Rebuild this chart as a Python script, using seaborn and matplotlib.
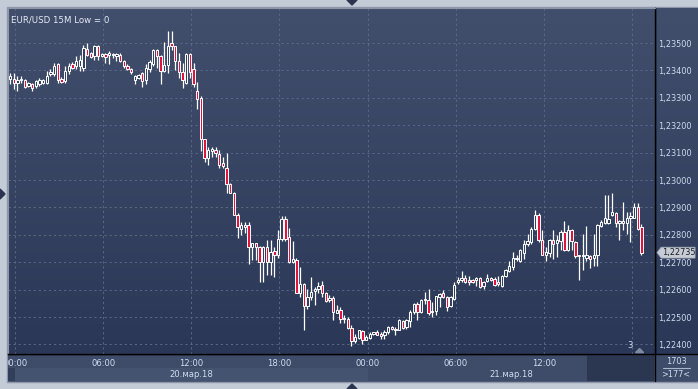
import numpy as np
import pandas as pd
import matplotlib
matplotlib.use("Agg")
import matplotlib.pyplot as plt
import matplotlib.transforms as mtransforms
from matplotlib.patches import Rectangle, Polygon
from matplotlib.colors import LinearSegmentedColormap
import seaborn as sns

# ---------------- data (prices in pips above 1.22000) ----------------
symbol_title = "EUR/USD 15M Low = 0"

open_pips = [
    136.8, 137.0, 135.5, 136.5, 136.7, 134.3, 135.2, 134.3, 134.9, 135.3,
    135.5, 138.8, 138.6, 142.2, 137.0, 136.1, 139.8, 142.2, 141.6, 141.6,
    141.0, 148.0, 146.4, 145.2, 148.8, 145.4, 146.1, 145.6, 145.5, 145.4,
    145.8, 143.4, 141.8, 140.6, 136.6, 137.4, 139.0, 136.6, 140.6, 142.3,
    147.6, 145.1, 139.9, 142.1, 150.0, 148.8, 143.5, 139.4, 135.4, 146.0,
    140.6, 132.6, 129.9, 115.0, 108.2, 110.6, 111.0, 109.4, 106.3, 104.3,
    98.4, 95.1, 87.2, 82.0, 83.0, 83.5, 75.7, 76.9, 75.7, 70.2,
    75.7, 70.2, 74.1, 72.7, 78.4, 85.7, 79.1, 70.0, 70.8, 58.6,
    61.9, 54.0, 57.4, 59.6, 60.1, 61.7, 58.6, 56.2, 57.1, 51.6,
    52.5, 49.2, 49.4, 46.1, 41.2, 42.5, 44.9, 41.7, 42.4, 43.9,
    44.5, 43.9, 43.3, 44.7, 46.3, 45.1, 45.3, 48.7, 46.3, 48.7,
    51.8, 54.8, 52.0, 56.2, 56.3, 51.7, 52.1, 57.2, 58.7, 57.2,
    54.2, 56.6, 62.7, 63.5, 64.3, 63.5, 63.5, 63.5, 64.3, 61.5,
    63.3, 64.3, 63.9, 62.7, 61.4, 65.1, 66.9, 68.2, 71.0, 70.6,
    73.3, 76.7, 77.4, 82.3, 87.2, 78.0, 72.8, 73.3, 78.0, 77.0,
    77.7, 81.0, 74.5, 81.9, 77.4, 72.2, 72.2, 71.6, 72.1, 71.6,
    72.5, 83.1, 84.4, 84.4, 87.2, 87.8, 84.4, 84.4, 84.4, 86.0,
    86.3, 90.0, 82.9,
]
high_pips = [
    139.2, 139.2, 138.0, 138.0, 137.0, 135.8, 135.5, 136.7, 137.2, 137.0,
    139.8, 140.4, 142.8, 142.8, 137.5, 141.6, 142.8, 143.0, 145.2, 145.8,
    149.4, 150.2, 146.8, 149.4, 149.4, 146.4, 146.4, 147.0, 146.4, 146.4,
    146.4, 144.0, 142.2, 141.0, 138.4, 138.8, 139.6, 142.3, 143.9, 147.9,
    147.9, 145.5, 150.4, 154.5, 154.3, 149.1, 146.3, 142.7, 146.3, 146.3,
    142.7, 135.7, 130.5, 115.0, 111.9, 111.9, 112.2, 111.0, 108.5, 109.8,
    98.8, 95.7, 87.8, 84.8, 84.8, 84.8, 77.2, 77.2, 76.0, 76.0,
    78.2, 78.2, 75.7, 81.8, 86.7, 86.7, 82.4, 77.6, 71.4, 68.4,
    62.3, 60.4, 64.5, 60.8, 62.9, 63.1, 59.2, 58.0, 57.6, 54.3,
    53.7, 50.6, 50.0, 47.0, 43.9, 45.4, 45.2, 43.3, 44.5, 44.7,
    45.1, 44.5, 45.3, 46.6, 46.6, 46.3, 49.3, 49.0, 49.3, 52.4,
    55.0, 55.4, 56.6, 59.1, 60.3, 55.4, 57.8, 58.7, 59.7, 57.8,
    57.5, 62.7, 64.5, 66.9, 65.5, 65.1, 64.0, 64.5, 64.5, 63.1,
    65.7, 64.7, 64.5, 65.1, 65.3, 67.5, 70.6, 73.7, 72.5, 74.9,
    78.0, 80.4, 82.9, 89.0, 88.0, 81.7, 75.5, 78.6, 81.7, 79.8,
    81.7, 85.1, 83.5, 82.3, 77.7, 72.8, 80.4, 83.1, 72.8, 80.4,
    84.1, 85.3, 94.5, 94.5, 95.2, 88.4, 85.3, 92.1, 88.4, 88.4,
    91.5, 91.5, 84.1,
]
low_pips = [
    134.9, 133.1, 132.5, 135.5, 133.7, 134.0, 132.5, 133.7, 134.5, 135.0,
    134.9, 138.0, 138.0, 135.5, 135.3, 135.5, 138.6, 140.5, 140.4, 139.8,
    139.8, 145.2, 144.5, 144.0, 144.0, 144.9, 142.8, 142.5, 144.5, 143.4,
    143.0, 141.0, 140.0, 138.6, 135.0, 136.8, 134.1, 135.0, 139.6, 141.5,
    140.9, 135.0, 139.6, 139.0, 147.6, 140.2, 137.2, 133.5, 135.0, 137.2,
    133.8, 126.0, 110.6, 106.7, 105.5, 108.5, 108.5, 104.5, 104.3, 95.1,
    95.1, 87.2, 78.9, 80.1, 80.5, 69.5, 70.8, 70.8, 62.9, 62.9,
    65.3, 65.3, 64.5, 71.4, 77.6, 77.6, 69.6, 69.6, 58.6, 57.4,
    45.2, 53.1, 56.2, 54.3, 58.6, 57.4, 55.5, 55.5, 48.8, 51.3,
    47.8, 47.8, 45.8, 39.3, 40.5, 42.1, 40.0, 41.5, 41.8, 43.3,
    43.3, 42.1, 42.1, 43.9, 45.1, 43.3, 45.1, 45.7, 45.7, 46.3,
    51.2, 49.0, 51.4, 54.8, 50.6, 50.0, 50.6, 53.8, 57.0, 52.1,
    53.8, 56.3, 62.1, 62.7, 62.3, 61.8, 62.3, 61.5, 60.6, 60.3,
    62.7, 63.0, 61.5, 61.5, 61.0, 64.5, 66.3, 67.2, 70.6, 70.0,
    71.2, 76.1, 76.7, 81.9, 77.4, 72.5, 70.6, 71.8, 71.2, 71.8,
    74.3, 74.0, 74.0, 74.5, 71.6, 63.5, 67.2, 70.6, 67.9, 68.8,
    68.8, 82.9, 83.9, 84.1, 86.8, 82.9, 78.0, 81.7, 80.4, 77.4,
    86.0, 81.7, 72.8,
]
close_pips = [
    138.0, 135.5, 136.7, 136.8, 134.1, 135.5, 133.7, 136.1, 136.7, 136.7,
    138.0, 139.3, 141.8, 136.7, 135.8, 139.8, 141.8, 141.0, 143.4, 144.0,
    148.2, 145.8, 144.9, 148.8, 145.4, 146.0, 144.9, 146.2, 146.0, 146.0,
    143.4, 141.8, 140.6, 139.4, 137.8, 138.2, 136.0, 140.9, 143.0, 147.6,
    145.1, 139.9, 142.1, 149.1, 148.8, 143.5, 139.4, 136.6, 146.0, 139.6,
    135.0, 129.6, 115.0, 108.2, 111.0, 111.2, 109.8, 105.5, 105.1, 98.4,
    95.4, 87.4, 82.9, 83.5, 83.6, 75.4, 76.9, 75.7, 70.2, 75.7,
    70.2, 73.9, 72.7, 78.4, 85.7, 78.4, 70.0, 71.1, 58.6, 61.9,
    54.0, 57.4, 59.2, 60.1, 61.3, 58.6, 55.9, 57.1, 51.9, 52.5,
    49.4, 49.8, 46.1, 41.2, 42.7, 45.2, 41.5, 42.7, 43.9, 44.5,
    43.6, 43.0, 44.7, 46.3, 45.5, 45.7, 49.0, 46.1, 49.0, 52.0,
    54.8, 51.8, 56.3, 56.6, 51.4, 52.2, 57.5, 58.4, 57.2, 53.8,
    57.2, 61.7, 63.5, 64.3, 62.7, 62.7, 62.7, 64.3, 61.1, 62.7,
    64.3, 63.5, 61.8, 62.1, 65.1, 67.2, 68.8, 71.6, 71.4, 74.3,
    76.7, 77.6, 82.3, 87.2, 78.0, 72.8, 73.7, 78.0, 76.7, 78.0,
    81.0, 74.5, 81.7, 77.7, 72.1, 72.6, 72.8, 72.5, 71.2, 72.5,
    83.5, 84.7, 86.0, 85.6, 88.4, 84.4, 85.1, 85.1, 86.3, 86.8,
    90.0, 82.3, 73.5,
]

price_levels = [1.224, 1.225, 1.226, 1.227, 1.228, 1.229,
                1.230, 1.231, 1.232, 1.233, 1.234, 1.235]
price_labels = ["1,22400", "1,22500", "1,22600", "1,22700", "1,22800", "1,22900",
                "1,23000", "1,23100", "1,23200", "1,23300", "1,23400", "1,23500"]
time_labels = ["00:00", "06:00", "12:00", "18:00", "00:00", "06:00", "12:00", "18:00"]
date_labels = ["20.мар.18", "21.мар.18"]
last_price = 1.22735
last_price_label = "1,22735"
bars_total_label = "1703"
bars_range_label = ">177<"
marker_label = "3"

# ---------------- style ----------------
sns.set_theme(style="dark")
plt.rcParams["font.family"] = ["DejaVu Sans"]

df = pd.DataFrame({
    "open": 1.22 + np.array(open_pips) / 10000.0,
    "high": 1.22 + np.array(high_pips) / 10000.0,
    "low": 1.22 + np.array(low_pips) / 10000.0,
    "close": 1.22 + np.array(close_pips) / 10000.0,
})
df["idx"] = np.arange(len(df))
df["bull"] = df["close"] >= df["open"]
df["body_lo"] = df[["open", "close"]].min(axis=1)
df["body_h"] = (df["close"] - df["open"]).abs().clip(lower=0.00004)

W, H = 698, 389
fig = plt.figure(figsize=(W / 100, H / 100), dpi=100)
OUTER = "#c3cbd7"
fig.patch.set_facecolor(OUTER)

TXT = "#cfdbef"
PANEL = "#3e4c69"
FS = 6.1
FSY = 5.9

# pixel-space background axes for chrome
bg = fig.add_axes([0, 0, 1, 1], zorder=0)
bg.set_xlim(0, W)
bg.set_ylim(H, 0)
bg.axis("off")

grad = np.linspace(0, 1, 256)[:, None]
cmap = LinearSegmentedColormap.from_list("bgg", ["#414f6d", "#2b3756"])

bg.add_patch(Rectangle((7, 7), W - 7, 375, facecolor=PANEL, edgecolor="#8d97a8", lw=1))
bg.imshow(grad, extent=(655, W, 354, 8), cmap=cmap, aspect="auto", origin="upper", zorder=1)
bg.add_patch(Rectangle((8, 354), 647, 27, facecolor=PANEL, edgecolor="none", zorder=1))
bg.add_patch(Rectangle((655, 354), W - 655, 27, facecolor=PANEL, edgecolor="none", zorder=1))
bg.text(676, 361, bars_total_label, color=TXT, fontsize=FSY, ha="center", va="center", zorder=3)
bg.plot([663, 690], [368, 368], color="#aab6cc", lw=0.8, zorder=3)
bg.text(676, 374.5, bars_range_label, color=TXT, fontsize=FSY, ha="center", va="center", zorder=3)
bg.plot([655, 655], [8, 381], color="black", lw=1.0, zorder=4)
bg.plot([8, W], [354, 354], color="black", lw=1.0, zorder=4)
# navigation triangles
bg.add_patch(Polygon([(347, 0), (357, 0), (352, 5)], closed=True, color="#2a3350", zorder=5))
bg.add_patch(Polygon([(347, 389), (357, 389), (352, 384)], closed=True, color="#2a3350", zorder=5))
bg.add_patch(Polygon([(0, 189), (0, 199), (5, 194)], closed=True, color="#2a3350", zorder=5))

# ---------------- main chart axes ----------------
ax = fig.add_axes([8 / W, 1 - 354 / H, 647 / W, 346 / H], zorder=2)
xmin, xmax = -0.55, 175.7
ymin, ymax = 1.22365, 1.23628
ax.imshow(grad[::-1], extent=(xmin, xmax, ymin, ymax), cmap=cmap, aspect="auto",
          origin="lower", zorder=-10)
ax.set_xlim(xmin, xmax)
ax.set_ylim(ymin, ymax)

tick_pos = [1.4 + 24 * k for k in range(len(time_labels))]
ax.set_axisbelow(True)
ax.grid(True, color="#5b6886", linestyle=(0, (2.2, 3.0)), lw=0.7)

# wicks and bodies
ax.vlines(df["idx"], df["low"], df["high"], colors="white", lw=0.9, zorder=2)
fills = np.where(df["bull"], "#33405e", "#e0143f")
ax.bar(df["idx"], df["body_h"], bottom=df["body_lo"], width=0.64, color=fills,
       edgecolor="white", linewidth=0.7, zorder=3)

for s in ["top", "left"]:
    ax.spines[s].set_color("#8d97a8")
    ax.spines[s].set_linewidth(0.8)
for s in ["bottom", "right"]:
    ax.spines[s].set_color("black")
    ax.spines[s].set_linewidth(1.0)

ax.yaxis.tick_right()
ax.set_yticks(price_levels)
ax.set_yticklabels(price_labels)
ax.tick_params(axis="y", length=0, pad=2.5, labelsize=FSY, labelcolor=TXT)

ax.set_xticks(tick_pos)
ax.set_xticklabels(time_labels)
ax.tick_params(axis="x", length=0, pad=3.3, labelsize=FS, labelcolor=TXT)
xt = ax.get_xticklabels()
clipbox = mtransforms.TransformedBbox(mtransforms.Bbox([[8 / W, 0], [1, 1]]), fig.transFigure)
xt[0].set_clip_box(clipbox)
xt[0].set_clip_on(True)
xt[-1].set_color("#6f7c96")

blend = mtransforms.blended_transform_factory(ax.transData, ax.transAxes)
blend_y = mtransforms.blended_transform_factory(ax.transAxes, ax.transData)

# date row bands and highlighted time box
ax.add_patch(Rectangle((xmin, -0.078), tick_pos[0] - xmin, 0.0375, transform=blend,
                       facecolor="#323f5b", edgecolor="none", clip_on=False, zorder=1))
ax.add_patch(Rectangle((tick_pos[0], -0.078), tick_pos[4] - tick_pos[0], 0.0375, transform=blend,
                       facecolor="#44536f", edgecolor="none", clip_on=False, zorder=1))
ax.add_patch(Rectangle((157.2, -0.078), xmax - 157.2, 0.076, transform=blend,
                       facecolor="#2b3651", edgecolor="none", clip_on=False, zorder=1))
ax.text(tick_pos[2], -0.058, date_labels[0], transform=blend, ha="center", va="center",
        fontsize=FS, color=TXT, clip_on=False)
ax.text(0.5 * (tick_pos[4] + xmax), -0.058, date_labels[1], transform=blend, ha="center",
        va="center", fontsize=FS, color=TXT, clip_on=False)

# title
ax.text(0.004, 0.978, symbol_title, transform=ax.transAxes, ha="left", va="top",
        fontsize=6.2, color="#e6ebf4")

# marker label near bottom
ax.text(169.0, 0.012, marker_label, transform=blend, ha="center", va="bottom",
        fontsize=FS, color=TXT)
ax.add_patch(Polygon([(170.4, 0.004), (172.6, 0.004), (171.5, 0.016)], closed=True,
                     transform=blend, color="#7f8aa0", zorder=4))

# last price tag
ax.add_patch(Polygon([(1.003, last_price), (1.0095, last_price + 0.0002),
                      (1.062, last_price + 0.0002), (1.062, last_price - 0.0002),
                      (1.0095, last_price - 0.0002)], closed=True, transform=blend_y,
                     facecolor="#c6cbd4", edgecolor="#9aa2b0", lw=0.5, clip_on=False, zorder=6))
ax.text(1.0105, last_price, last_price_label, transform=blend_y, ha="left", va="center",
        fontsize=FSY, color="#1b1e26", clip_on=False, zorder=7)

fig.savefig("out.png", dpi=100, facecolor=OUTER)
